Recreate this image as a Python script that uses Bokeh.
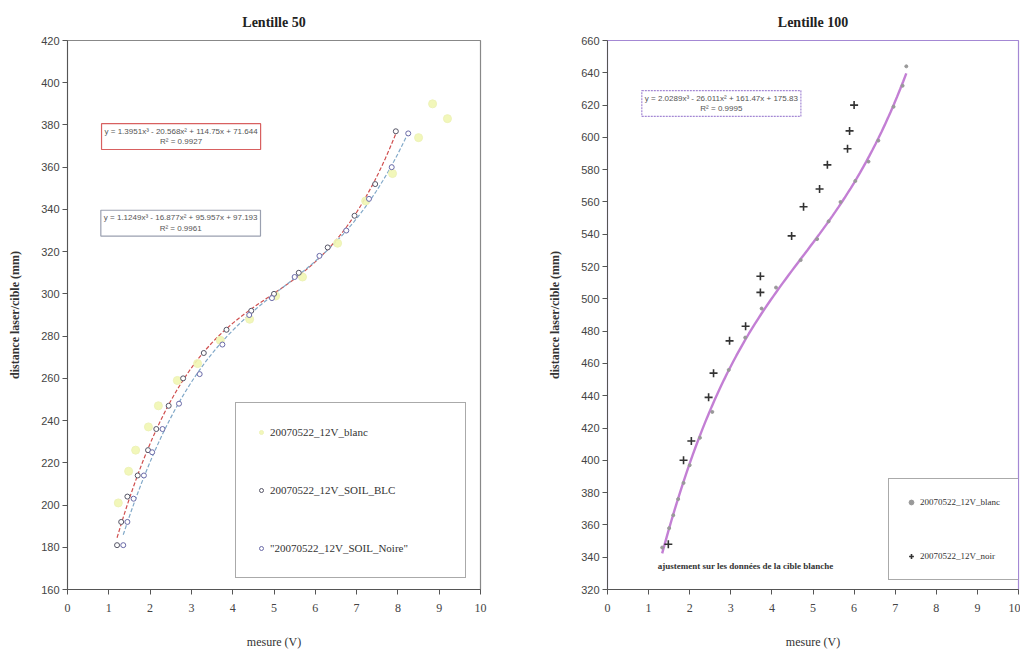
import numpy as np
from bokeh.plotting import figure
from bokeh.layouts import row
from bokeh.models import Legend, LegendItem, Label, Range1d, FixedTicker
from bokeh.embed import file_html
from bokeh.resources import INLINE

# ---------------- data : Lentille 50 ----------------
blanc50_x = [1.23, 1.48, 1.65, 1.96, 2.20, 2.66, 3.15, 3.70, 4.41, 5.04, 5.69, 6.54, 7.22, 7.87, 8.50, 8.84, 9.20]
blanc50_y = [201, 216, 226, 237, 247, 259, 267, 278, 288, 299, 308, 324, 344, 357, 374, 390, 383]
blc_x = [1.20, 1.30, 1.45, 1.70, 1.95, 2.15, 2.45, 2.80, 3.30, 3.85, 4.45, 5.00, 5.60, 6.30, 6.95, 7.45, 7.95]
blc_y = [181, 192, 204, 214, 226, 236, 247, 260, 272, 283, 292, 300, 310, 322, 337, 352, 377]
noire_x = [1.35, 1.45, 1.60, 1.85, 2.05, 2.30, 2.70, 3.20, 3.75, 4.40, 4.95, 5.50, 6.10, 6.75, 7.30, 7.85, 8.25]
noire_y = [181, 192, 203, 214, 225, 236, 248, 262, 276, 290, 298, 308, 318, 330, 345, 360, 376]
eq_blc = "y = 1.3951x³ - 20.568x² + 114.75x + 71.644\nR² = 0.9927"
eq_noire = "y = 1.1249x³ - 16.877x² + 95.957x + 97.193\nR² = 0.9961"

# ---------------- data : Lentille 100 ----------------
blanc100_x = [1.33, 1.50, 1.60, 1.72, 1.85, 2.00, 2.25, 2.55, 2.95, 3.35, 3.75, 4.10, 4.70, 5.10, 5.38, 5.67, 6.03, 6.35, 6.59, 6.96, 7.18, 7.27]
blanc100_y = [346, 358, 366, 376, 386, 397, 414, 430, 456, 476, 494, 507, 524, 537, 548, 560, 573, 585, 598, 619, 632, 644]
noir_x = [1.48, 1.85, 2.04, 2.46, 2.58, 2.97, 3.36, 3.72, 3.72, 4.48, 4.77, 5.16, 5.35, 5.84, 5.89, 6.00]
noir_y = [348, 400, 412, 439, 454, 474, 483, 504, 514, 539, 557, 568, 583, 593, 604, 620]
eq_blanc100 = "y = 2.0289x³ - 26.011x² + 161.47x + 175.83\nR² = 0.9995"
note100 = "ajustement sur les données de la cible blanche"

x_ticks = list(range(0, 11))
y_ticks50 = list(range(160, 421, 20))
y_ticks100 = list(range(320, 661, 20))

SERIF = "Liberation Serif"
SANS = "Liberation Sans"


def trend(xs, ys, n=80):
    c = np.polyfit(xs, ys, 3)
    xx = np.linspace(min(xs), max(xs), n)
    return xx, np.polyval(c, xx)


def style(p, yt, outline):
    p.xgrid.visible = False
    p.ygrid.visible = False
    p.x_range = Range1d(0, 10)
    p.xaxis.ticker = FixedTicker(ticks=x_ticks)
    p.yaxis.ticker = FixedTicker(ticks=yt)
    p.outline_line_color = outline
    p.outline_line_width = 1.2
    for ax in (p.xaxis[0], p.yaxis[0]):
        ax.axis_line_color = "#555555"
        ax.major_tick_line_color = "#555555"
        ax.major_tick_in = 0
        ax.major_tick_out = 5
        ax.minor_tick_line_color = None
        ax.major_label_text_color = "#444444"
        ax.axis_label_text_color = "#333333"
    p.xaxis.major_label_text_font = SERIF
    p.xaxis.major_label_text_font_size = "12px"
    p.xaxis.major_label_standoff = 9
    p.xaxis.axis_label = "mesure (V)"
    p.xaxis.axis_label_text_font = SERIF
    p.xaxis.axis_label_text_font_style = "normal"
    p.xaxis.axis_label_text_font_size = "12px"
    p.xaxis.axis_label_standoff = 20
    p.yaxis.major_label_text_font = SANS
    p.yaxis.major_label_text_font_size = "11px"
    p.yaxis.major_label_standoff = 3
    p.yaxis.axis_label = "distance laser/cible (mm)"
    p.yaxis.axis_label_text_font = SERIF
    p.yaxis.axis_label_text_font_style = "bold"
    p.yaxis.axis_label_text_font_size = "12px"
    p.yaxis.axis_label_standoff = 16
    p.title.text_font = SERIF
    p.title.text_font_size = "14px"
    p.title.text_font_style = "bold"
    p.title.align = "center"
    p.title.text_color = "#222222"
    p.title.standoff = 22


# ---------------- left figure ----------------
p1 = figure(width=540, height=652, output_backend="svg", toolbar_location=None,
            title="Lentille 50", min_border_left=67, min_border_right=60,
            min_border_top=40, min_border_bottom=63)
style(p1, y_ticks50, "#888888")
p1.y_range = Range1d(160, 420)

tx, ty = trend(blc_x, blc_y)
p1.line(tx, ty, line_color="#d05050", line_dash="4 2", line_width=1.2)
tx2, ty2 = trend(noire_x, noire_y)
p1.line(tx2, ty2, line_color="#80a8c8", line_dash="4 2", line_width=1.2)

r_bl = p1.scatter(blanc50_x, blanc50_y, size=8, fill_color="#f1f6b2", line_color="#eef3b8", fill_alpha=0.9)
r_blc = p1.scatter(blc_x, blc_y, size=5, fill_color="white", line_color="#555566", line_width=1)
r_noi = p1.scatter(noire_x, noire_y, size=5, fill_color="white", line_color="#6a6aa8", line_width=1)

p1.add_layout(Label(x=2.75, y=374.5, text=eq_blc, text_align="center", text_baseline="middle",
                    text_font=SANS, text_font_size="8px", text_color="#555555",
                    border_line_color="#d86060", border_line_width=1.2,
                    background_fill_color="white", padding=3))
p1.add_layout(Label(x=2.74, y=333.5, text=eq_noire, text_align="center", text_baseline="middle",
                    text_font=SANS, text_font_size="8px", text_color="#555555",
                    border_line_color="#9aa0b0", border_line_width=1.2,
                    background_fill_color="white", padding=3))

leg1 = Legend(items=[LegendItem(label="20070522_12V_blanc", renderers=[r_bl]),
                     LegendItem(label="20070522_12V_SOIL_BLC", renderers=[r_blc]),
                     LegendItem(label='"20070522_12V_SOIL_Noire"', renderers=[r_noi])],
              location=(168, 11), orientation="vertical", spacing=40, padding=20,
              label_width=175, label_height=18, glyph_width=10, glyph_height=18,
              label_standoff=4, label_text_font=SERIF, label_text_font_size="11px",
              label_text_color="#333333", border_line_color="#555555", border_line_width=1.2,
              background_fill_color="white", background_fill_alpha=1, margin=0)
p1.add_layout(leg1, "center")

# ---------------- right figure ----------------
p2 = figure(width=480, height=652, output_backend="svg", toolbar_location=None,
            title="Lentille 100", min_border_left=67, min_border_right=2,
            min_border_top=40, min_border_bottom=63)
style(p2, y_ticks100, "#a488d4")
p2.y_range = Range1d(320, 660)

tx3, ty3 = trend(blanc100_x, blanc100_y)
p2.line(tx3, ty3, line_color="#b868cc", line_width=2.4, line_alpha=0.85)
r_b100 = p2.scatter(blanc100_x, blanc100_y, size=3, fill_color="#999999", line_color="#999999")
r_noir = p2.scatter(noir_x, noir_y, marker="cross", size=8, line_color="#333333", line_width=1.6)

p2.add_layout(Label(x=2.77, y=621, text=eq_blanc100, text_align="center", text_baseline="middle",
                    text_font=SANS, text_font_size="8px", text_color="#555555",
                    border_line_color="#a488d4", border_line_width=1.2, border_line_dash="2 1",
                    background_fill_color="white", padding=3))
p2.add_layout(Label(x=3.36, y=334.5, text=note100, text_align="center", text_baseline="middle",
                    text_font=SERIF, text_font_size="9px", text_font_style="bold",
                    text_color="#333333"))

leg2 = Legend(items=[LegendItem(label="20070522_12V_blanc", renderers=[r_b100]),
                     LegendItem(label="20070522_12V_noir", renderers=[r_noir])],
              location=(281, 9), orientation="vertical", spacing=40, padding=16,
              label_width=95, label_height=14, glyph_width=12, glyph_height=14,
              label_standoff=3, label_text_font=SERIF, label_text_font_size="9px",
              label_text_color="#333333", border_line_color="#555555", border_line_width=1.2,
              background_fill_color="white", background_fill_alpha=1, margin=0)
p2.add_layout(leg2, "center")

layout = row(p1, p2)
open("out.html", "w").write(file_html(layout, INLINE))
